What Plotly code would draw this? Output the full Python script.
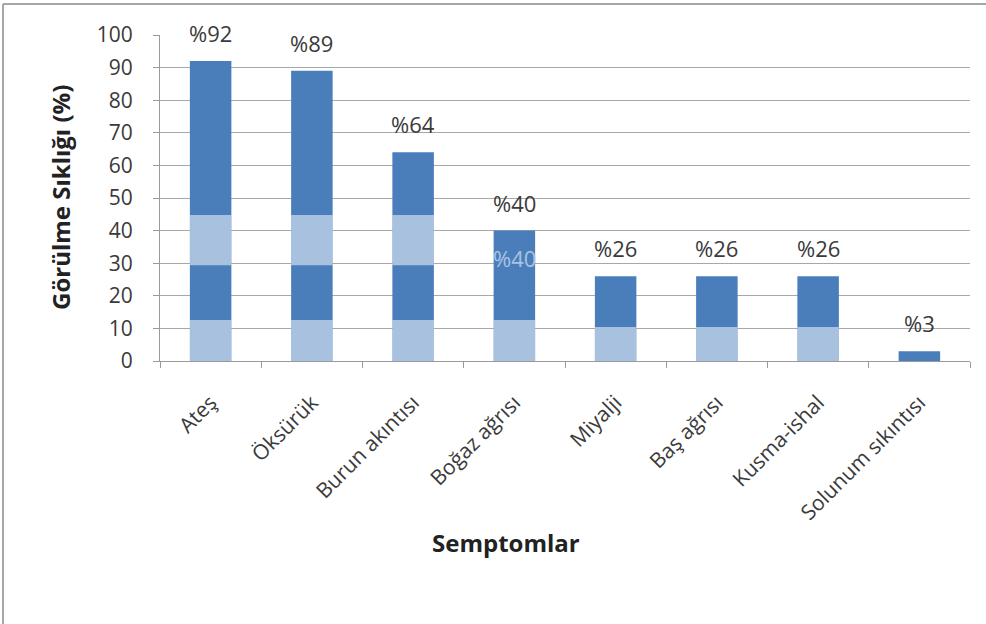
import plotly.graph_objects as go

# Symptom frequencies (%)
categories = ["Ateş", "Öksürük", "Burun akıntısı", "Boğaz ağrısı",
              "Miyalji", "Baş ağrısı", "Kusma-ishal", "Solunum sıkıntısı"]
values = [92, 89, 64, 40, 26, 26, 26, 3]
value_labels = ["%92", "%89", "%64", "%40", "%26", "%26", "%26", "%3"]

BAR = "#4a7ebb"
TINT = "rgba(255,255,255,0.52)"
TXT = "#3a3a3a"
FONT = "Open Sans"
BAR_W = 0.41

fig = go.Figure()

fig.add_trace(go.Bar(x=categories, y=values, marker=dict(color=BAR, line=dict(width=0)),
                     width=BAR_W, hoverinfo="skip", showlegend=False))

# lighter bands over the lower part of the bars
low_band = [min(v, 12.6 if i < 4 else 10.4) for i, v in enumerate(values)]
low_band[-1] = 0
fig.add_trace(go.Bar(x=categories, y=low_band, base=0,
                     marker=dict(color=TINT, line=dict(width=0)),
                     width=BAR_W, hoverinfo="skip", showlegend=False))
fig.add_trace(go.Bar(x=categories[:3], y=[15.4] * 3, base=29.4,
                     marker=dict(color=TINT, line=dict(width=0)),
                     width=BAR_W, hoverinfo="skip", showlegend=False))

annotations = []
for c, v, t in zip(categories, values, value_labels):
    annotations.append(dict(x=c, y=v, xref="x", yref="y", text=t, showarrow=False,
                            yanchor="bottom", yshift=11,
                            font=dict(family=FONT, size=22, color=TXT)))
annotations.append(dict(x=categories[3], y=values[3], xref="x", yref="y", text=value_labels[3],
                        showarrow=False, yanchor="middle", yshift=-27,
                        font=dict(family=FONT, size=22, color="#a9c3e3")))
annotations.append(dict(x=0.427, y=-0.558, xref="paper", yref="paper", text="<b>Semptomlar</b>",
                        xanchor="center", yanchor="middle", showarrow=False,
                        font=dict(family=FONT, size=24, color="#222222")))
annotations.append(dict(x=-0.1235, y=0.503, xref="paper", yref="paper",
                        text="<b>Görülme Sıklığı (%)</b>", textangle=-90, showarrow=False,
                        xanchor="center", yanchor="middle",
                        font=dict(family=FONT, size=24, color="#222222")))

fig.update_layout(
    width=986, height=624, autosize=False,
    margin=dict(l=160, r=16, t=35, b=263),
    paper_bgcolor="white", plot_bgcolor="white",
    barmode="overlay",
    annotations=annotations,
    shapes=[
        dict(type="line", xref="paper", yref="paper", x0=-0.1938, x1=1.02, y0=1.0951, y1=1.0951,
             line=dict(color="#a6a6a6", width=2)),
        dict(type="line", xref="paper", yref="paper", x0=-0.1938, x1=-0.1938, y0=1.0951, y1=-0.81,
             line=dict(color="#a6a6a6", width=2)),
    ],
)

fig.update_xaxes(
    type="category", tickangle=-45, tickson="boundaries",
    ticks="outside", ticklen=6, tickcolor="#9a9a9a",
    showline=True, linecolor="#9a9a9a", linewidth=1,
    showgrid=False, ticklabelstandoff=20,
    tickfont=dict(family=FONT, size=21, color=TXT),
)
fig.update_yaxes(
    range=[0, 100], dtick=10, tick0=0,
    ticks="outside", ticklen=6, tickcolor="#9a9a9a",
    showline=True, linecolor="#9a9a9a", linewidth=1,
    showgrid=True, gridcolor="#a8a8a8", gridwidth=1,
    zeroline=False, ticklabelstandoff=16,
    tickfont=dict(family=FONT, size=21, color=TXT),
)

fig.write_html("out.html")
